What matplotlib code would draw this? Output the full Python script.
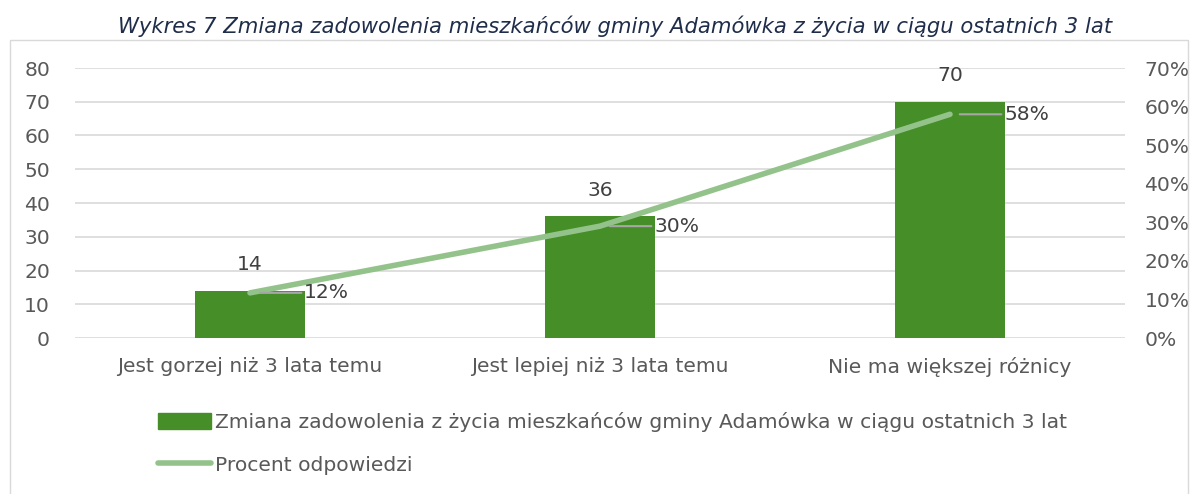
import matplotlib.pyplot as plt
from matplotlib.patches import Rectangle
from matplotlib.lines import Line2D

kategorie = ["Jest gorzej niż 3 lata temu", "Jest lepiej niż 3 lata temu", "Nie ma większej różnicy"]
liczby = [14, 36, 70]
procenty = [0.117, 0.29, 0.58]
etykiety_proc = ["12%", "30%", "58%"]

tytul = "Wykres 7 Zmiana zadowolenia mieszkańców gminy Adamówka z życia w ciągu ostatnich 3 lat"
nazwa_serii1 = "Zmiana zadowolenia z życia mieszkańców gminy Adamówka w ciągu ostatnich 3 lat"
nazwa_serii2 = "Procent odpowiedzi"

kolor_slupka = "#468E28"
kolor_linii = "#93C38A"
kolor_tekstu = "#595959"
kolor_siatki = "#D9D9D9"
rozmiar = 14.6

plt.rcParams["font.family"] = ["DejaVu Sans"]

fig = plt.figure(figsize=(11.95, 4.94), dpi=100)
fig.patches.append(Rectangle((10 / 1195, -0.1), 1178 / 1195, 1 - 40 / 494 + 0.1,
                             transform=fig.transFigure, fill=False,
                             edgecolor=kolor_siatki, linewidth=1))

ax = fig.add_axes([75 / 1195, 1 - 338 / 494, 1050 / 1195, 270 / 494])
ax2 = ax.twinx()

x = list(range(len(kategorie)))
ax.bar(x, liczby, width=0.314, color=kolor_slupka, zorder=2)
ax.set_ylim(0, 80)
ax.set_xlim(-0.5, 2.5)
ax.set_yticks(range(0, 81, 10))
ax.yaxis.grid(True, color=kolor_siatki, linewidth=1.2, zorder=0)
ax.set_axisbelow(True)
ax.set_xticks(x)
ax.set_xticklabels(kategorie)
for s in ax.spines.values():
    s.set_visible(False)
for s in ax2.spines.values():
    s.set_visible(False)
ax.tick_params(axis="both", length=0, labelsize=rozmiar, labelcolor=kolor_tekstu)
ax.tick_params(axis="x", pad=14)
ax.tick_params(axis="y", pad=18)

for xi, v in zip(x, liczby):
    ax.annotate(str(v), (xi, v), xytext=(0, 12), textcoords="offset points",
                ha="center", va="bottom", fontsize=rozmiar, color="#404040")

ax2.plot(x, procenty, color=kolor_linii, linewidth=4, solid_capstyle="round", zorder=3)
ax2.set_ylim(0, 0.7)
ax2.set_yticks([i / 10 for i in range(8)])
ax2.set_yticklabels([f"{i * 10}%" for i in range(8)])
ax2.tick_params(axis="y", length=0, labelsize=rozmiar, labelcolor=kolor_tekstu, pad=14)

for xi, p, lab in zip(x, procenty, etykiety_proc):
    ax2.annotate(lab, (xi, p), xytext=(39, 0), textcoords="offset points",
                 ha="left", va="center", fontsize=rozmiar, color="#404040",
                 arrowprops=dict(arrowstyle="-", color="#A6A6A6", lw=1.5,
                                 shrinkA=0, shrinkB=7))

fig.text(615 / 1195, 1 - 33 / 494, tytul, ha="center", va="baseline", fontsize=15.2,
         style="italic", color="#1F2D4A")

uchwyty = [Rectangle((0, 0), 1, 1, color=kolor_slupka),
           Line2D([0], [0], color=kolor_linii, linewidth=4, solid_capstyle="round")]
fig.legend(uchwyty, [nazwa_serii1, nazwa_serii2], loc="upper left",
           bbox_to_anchor=(140 / 1195, 1 - 394 / 494), frameon=False,
           fontsize=rozmiar, labelcolor=kolor_tekstu, handlelength=2.6,
           handleheight=0.8, handletextpad=0.2, labelspacing=1.15)

fig.savefig("out.png", dpi=100)
